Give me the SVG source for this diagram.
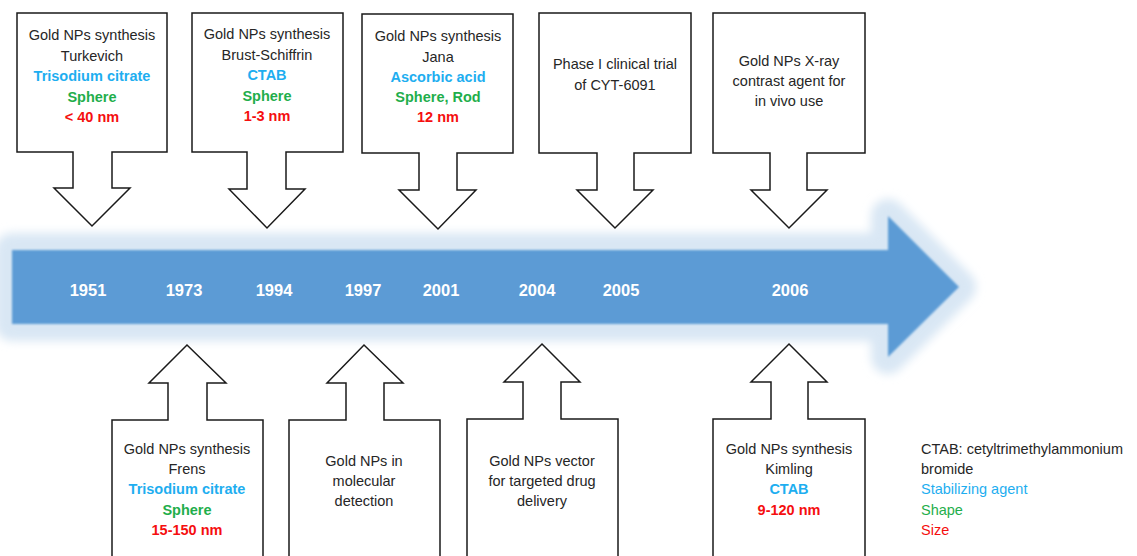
<svg xmlns="http://www.w3.org/2000/svg" width="1137" height="556" viewBox="0 0 1137 556">
<defs>
<style>
.co{fill:#fff;stroke:#1a1a1a;stroke-width:1.5;stroke-linejoin:miter}
text{font-family:"Liberation Sans",Arial,sans-serif;font-size:14.5px;text-anchor:middle;fill:#262626}
.b{font-weight:bold}
.c{fill:#1eaef0}
.g{fill:#1fae4b}
.r{fill:#f50f0f}
.yr{font-size:16.5px;font-weight:bold;fill:#fff}
.lg{text-anchor:start}
</style>
<filter id="glow" x="-10%" y="-60%" width="120%" height="220%"><feGaussianBlur stdDeviation="5"/></filter>
<filter id="soft" x="-5%" y="-20%" width="110%" height="140%"><feGaussianBlur stdDeviation="1"/></filter>
</defs>
<rect width="1137" height="556" fill="#fff"/>
<g id="timeline">
<path d="M12,250 L888,250 L888,216 L959,287 L888,357 L888,324 L12,324 Z" fill="#d9e7f4" stroke="#d9e7f4" stroke-width="34" stroke-linejoin="round" filter="url(#glow)"/>
<path d="M12,250 L888,250 L888,216 L959,287 L888,357 L888,324 L12,324 Z" fill="#5b9bd5" filter="url(#soft)"/>
<text class="yr" x="88" y="296">1951</text>
<text class="yr" x="184" y="296">1973</text>
<text class="yr" x="274" y="296">1994</text>
<text class="yr" x="363" y="296">1997</text>
<text class="yr" x="441" y="296">2001</text>
<text class="yr" x="537" y="296">2004</text>
<text class="yr" x="621" y="296">2005</text>
<text class="yr" x="790" y="296">2006</text>
</g>
<g id="connectors"></g>
<g id="n1951">
<path class="co" d="M17,13 H167 V152 H112 V188 H130 L92,226 L54,188 H73 V152 H17 Z"/>
<text x="92" y="40">Gold NPs synthesis</text>
<text x="92" y="60.5">Turkevich</text>
<text class="b c" x="92" y="81">Trisodium citrate</text>
<text class="b g" x="92" y="101.5">Sphere</text>
<text class="b r" x="92" y="122">&lt; 40 nm</text>
</g>
<g id="n1994">
<path class="co" d="M192,13 H343 V152 H286 V189 H305 L267,228 L229,189 H247 V152 H192 Z"/>
<text x="267" y="39">Gold NPs synthesis</text>
<text x="267" y="59.5">Brust-Schiffrin</text>
<text class="b c" x="267" y="80">CTAB</text>
<text class="b g" x="267" y="100.5">Sphere</text>
<text class="b r" x="267" y="121">1-3 nm</text>
</g>
<g id="n2001">
<path class="co" d="M362,14 H513 V153 H457 V190 H476 L438,229 L399,190 H419 V153 H362 Z"/>
<text x="438" y="41">Gold NPs synthesis</text>
<text x="438" y="61.5">Jana</text>
<text class="b c" x="438" y="82">Ascorbic acid</text>
<text class="b g" x="438" y="102">Sphere, Rod</text>
<text class="b r" x="438" y="122">12 nm</text>
</g>
<g id="n2005">
<path class="co" d="M539,13 H691 V153 H634 V190 H653 L615,228 L577,190 H597 V153 H539 Z"/>
<text x="615" y="69">Phase I clinical trial</text>
<text x="615" y="90">of CYT-6091</text>
</g>
<g id="n2006top">
<path class="co" d="M713,13 H865 V153 H807 V190 H827 L789,228 L751,190 H770 V153 H713 Z"/>
<text x="789" y="66">Gold NPs X-ray</text>
<text x="789" y="86">contrast agent for</text>
<text x="789" y="106">in vivo use</text>
</g>
<g id="n1973">
<path class="co" d="M112,560 V420 H168 V383 H149 L187,345 L226,383 H207 V420 H263 V560"/>
<text x="187" y="454">Gold NPs synthesis</text>
<text x="187" y="474">Frens</text>
<text class="b c" x="187" y="494">Trisodium citrate</text>
<text class="b g" x="187" y="515">Sphere</text>
<text class="b r" x="187" y="535">15-150 nm</text>
</g>
<g id="n1997">
<path class="co" d="M289,560 V420 H346 V383 H327 L364,345 L403,383 H384 V420 H440 V560"/>
<text x="364" y="466">Gold NPs in</text>
<text x="364" y="486">molecular</text>
<text x="364" y="506">detection</text>
</g>
<g id="n2004">
<path class="co" d="M467,560 V419 H523 V382 H504 L542,344 L580,382 H561 V419 H618 V560"/>
<text x="542" y="466">Gold NPs vector</text>
<text x="542" y="486">for targeted drug</text>
<text x="542" y="506">delivery</text>
</g>
<g id="n2006bottom">
<path class="co" d="M713,560 V419 H771 V382 H751 L789,344 L827,382 H808 V419 H865 V560"/>
<text x="789" y="454">Gold NPs synthesis</text>
<text x="789" y="474">Kimling</text>
<text class="b c" x="789" y="494">CTAB</text>
<text class="b r" x="789" y="515">9-120 nm</text>
</g>
<g id="legend">
<text class="lg" x="921" y="454">CTAB: cetyltrimethylammonium</text>
<text class="lg" x="921" y="474">bromide</text>
<text class="lg c" x="921" y="494">Stabilizing agent</text>
<text class="lg g" x="921" y="515">Shape</text>
<text class="lg r" x="921" y="535">Size</text>
</g>
</svg>
